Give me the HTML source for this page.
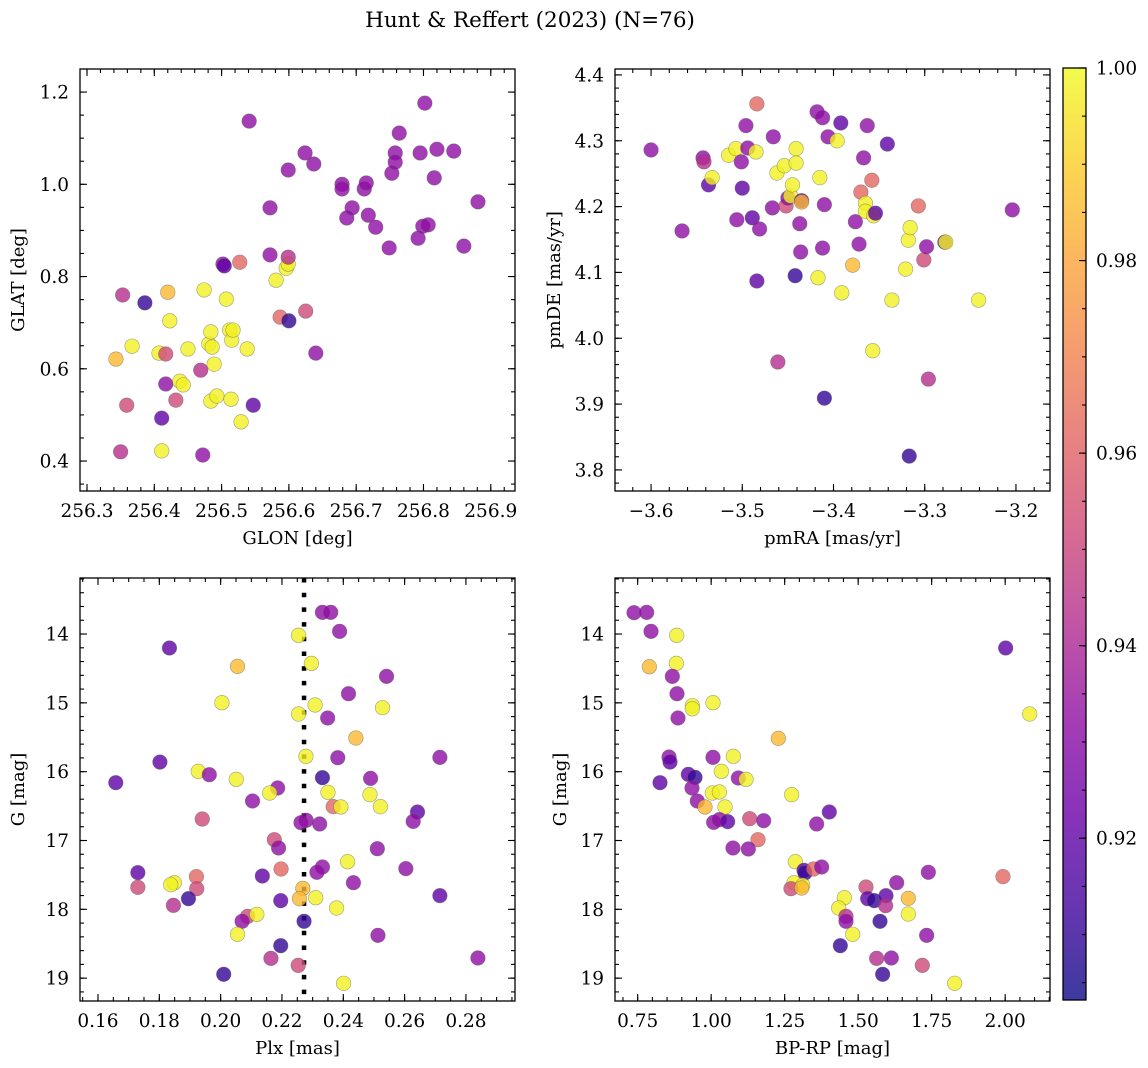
<!DOCTYPE html>
<html><head><meta charset="utf-8"><style>
html,body{margin:0;padding:0;background:#fff;}
svg{display:block;font-family:"DejaVu Serif","Liberation Serif",serif;}
</style></head><body>
<svg id="fig" width="1148" height="1068" viewBox="0 0 1148 1068" xmlns="http://www.w3.org/2000/svg">
<defs>
<linearGradient id="plasma" x1="0" y1="1" x2="0" y2="0">
<stop offset="0" stop-color="#0d0887"/><stop offset="0.1" stop-color="#41049d"/><stop offset="0.2" stop-color="#6a00a8"/><stop offset="0.3" stop-color="#8f0da4"/><stop offset="0.4" stop-color="#b12a90"/><stop offset="0.5" stop-color="#cc4778"/><stop offset="0.6" stop-color="#e16462"/><stop offset="0.7" stop-color="#f2844b"/><stop offset="0.8" stop-color="#fca636"/><stop offset="0.9" stop-color="#fcce25"/><stop offset="1" stop-color="#f0f921"/>
</linearGradient>
</defs>
<text x="530" y="27" text-anchor="middle" font-size="21.5">Hunt &amp; Reffert (2023) (N=76)</text>
</svg>
<script>
// ---- data ----
const codeProb = {Y:0.998,O:0.985,S:0.962,K:0.952,M:0.943,P:0.932,I:0.920,D:0.910};
// Panel 1: GLON / GLAT
const glon = [256.343,256.353,256.359,256.350,256.386,256.367,256.407,256.417,256.420,256.423,256.417,256.411,256.411,256.432,256.438,256.443,256.450,256.469,256.472,256.474,256.481,256.484,256.486,256.489,256.484,256.493,256.502,256.504,256.507,256.512,256.515,256.517,256.514,256.527,256.529,256.538,256.547,256.541,256.572,256.572,256.581,256.587,256.596,256.599,256.599,256.599,256.600,256.624,256.625,256.637,256.640,256.679,256.679,256.686,256.694,256.712,256.715,256.718,256.729,256.749,256.753,256.758,256.758,256.764,256.792,256.795,256.799,256.802,256.807,256.816,256.820,256.845,256.860,256.881];
const glat = [0.621,0.760,0.521,0.420,0.743,0.649,0.634,0.632,0.766,0.704,0.567,0.493,0.422,0.532,0.573,0.565,0.643,0.597,0.413,0.771,0.654,0.680,0.647,0.610,0.530,0.541,0.827,0.823,0.751,0.684,0.662,0.684,0.534,0.831,0.485,0.643,0.521,1.137,0.949,0.847,0.792,0.712,0.818,0.827,0.842,1.031,0.704,1.068,0.725,1.044,0.634,1.000,0.990,0.927,0.949,0.990,1.003,0.933,0.907,0.862,1.024,1.068,1.048,1.111,0.883,1.068,0.909,1.176,0.912,1.014,1.076,1.072,0.866,0.962];
const prob1 = "OMKMDYYKOYPIYKYYYMPYYYYYYYPIYYYYYSYYIPPPYSYYMPDPKPP" + "PPPPPPPPPPPPPPPPPPPPPPP";
// Panel 2: pmRA / pmDE
const pmra = [-3.600,-3.566,-3.543,-3.542,-3.537,-3.533,-3.515,-3.507,-3.501,-3.500,-3.496,-3.494,-3.506,-3.489,-3.485,-3.484,-3.484,-3.481,-3.466,-3.467,-3.462,-3.461,-3.454,-3.452,-3.450,-3.447,-3.445,-3.442,-3.441,-3.441,-3.437,-3.435,-3.435,-3.436,-3.418,-3.415,-3.417,-3.412,-3.410,-3.412,-3.410,-3.406,-3.396,-3.391,-3.392,-3.379,-3.376,-3.372,-3.370,-3.367,-3.365,-3.365,-3.363,-3.358,-3.357,-3.356,-3.354,-3.341,-3.336,-3.321,-3.318,-3.316,-3.317,-3.307,-3.301,-3.298,-3.296,-3.278,-3.277,-3.241,-3.204];
const pmde = [4.286,4.163,4.274,4.268,4.233,4.244,4.278,4.288,4.268,4.228,4.323,4.289,4.180,4.183,4.283,4.356,4.087,4.166,4.306,4.198,4.251,3.964,4.262,4.201,4.213,4.216,4.233,4.095,4.288,4.266,4.174,4.209,4.207,4.131,4.344,4.244,4.092,4.335,4.203,4.137,3.909,4.306,4.300,4.069,4.327,4.111,4.177,4.143,4.222,4.274,4.205,4.193,4.323,4.240,3.981,4.186,4.190,4.295,4.058,4.105,4.149,4.168,3.821,4.201,4.119,4.139,3.938,4.146,4.146,4.058,4.195];
const prob2 = "PPPMIYYYPIPPPIYSIPPPYMYKPYYDYYPIOPPYYPPPDPYYIOPPSPYYPSYYIIYYYYDSKPMIYYP";
// Panel 3: Plx / G
const plx = [0.2332,0.2359,0.2388,0.2254,0.1833,0.2055,0.2296,0.2541,0.2417,0.2004,0.2308,0.2528,0.2254,0.2349,0.2441,0.2278,0.2382,0.2715,0.1802,0.1927,0.1963,0.2051,0.1658,0.2332,0.2489,0.2186,0.2160,0.2350,0.2487,0.2104,0.2367,0.2392,0.2521,0.2642,0.1940,0.2279,0.2262,0.2323,0.2628,0.2175,0.2189,0.2511,0.1730,0.2414,0.1921,0.2197,0.2332,0.2314,0.2136,0.2604,0.1730,0.1849,0.1837,0.1922,0.2433,0.2268,0.1895,0.2196,0.2257,0.2310,0.2715,0.1846,0.2378,0.2088,0.2118,0.2070,0.2272,0.2055,0.2513,0.2196,0.2164,0.2839,0.2253,0.2010,0.2401];
const gmag3 = [13.685,13.685,13.961,14.019,14.203,14.470,14.426,14.615,14.867,14.998,15.031,15.070,15.162,15.220,15.511,15.777,15.797,15.792,15.860,15.995,16.044,16.111,16.160,16.087,16.097,16.237,16.310,16.300,16.334,16.426,16.508,16.513,16.508,16.586,16.688,16.707,16.741,16.760,16.722,16.988,17.109,17.119,17.467,17.308,17.525,17.414,17.385,17.462,17.516,17.409,17.680,17.613,17.642,17.700,17.613,17.695,17.845,17.874,17.845,17.831,17.801,17.942,17.981,18.102,18.073,18.174,18.174,18.363,18.378,18.528,18.712,18.707,18.814,18.944,19.075];
const prob3 = "PPPYIOYPPYYYYPOYPPIYPYIDPPYYYPSYYIKPPPPKPPIYSSPPIPKYYKPODIOYIMYKYPDYPDMPKDY";
const plxRef = [0.2272];
// Panel 4: BP-RP / G
const bprp = [0.7375,0.7806,0.7954,0.8827,2.0017,0.7897,0.8815,0.8679,0.8838,0.9359,0.9359,1.0062,0.8872,2.0833,1.2285,0.8566,0.8600,1.0062,1.0754,0.8260,0.9223,0.9450,1.0346,1.0924,1.1185,0.9348,1.0040,1.0278,1.2738,0.9529,0.9790,1.0471,1.4019,1.0085,1.0278,1.0561,1.1310,1.1786,1.3588,1.1593,1.0743,1.1264,1.2863,1.3158,1.3192,1.3487,1.3759,1.7387,1.9926,1.2817,1.3112,1.2715,1.3078,1.5266,1.6310,1.5323,1.5550,1.5947,1.5935,1.6706,1.4530,1.4337,1.6706,1.4586,1.4586,1.5743,1.4813,1.7330,1.4393,1.5629,1.6128,1.7182,1.5833,1.8282];
const gmag4 = [13.690,13.685,13.961,14.019,14.203,14.475,14.426,14.615,14.867,15.041,15.085,14.998,15.220,15.162,15.516,15.787,15.860,15.792,15.777,16.160,16.039,16.082,15.995,16.092,16.111,16.237,16.310,16.295,16.334,16.426,16.513,16.513,16.586,16.736,16.697,16.726,16.683,16.712,16.760,16.988,17.109,17.123,17.308,17.433,17.472,17.414,17.385,17.462,17.525,17.613,17.651,17.700,17.690,17.676,17.613,17.845,17.874,17.801,17.947,17.840,17.831,17.981,18.068,18.102,18.174,18.174,18.363,18.378,18.528,18.712,18.707,18.814,18.944,19.075];
const prob4 = "PPPYIOYPPYYYPYOPIPYIIDYPYPYYYPOYIPPIKPPSPPYIDSPPSYYKOKPIDIMOYYYMPDYPDMPKDY";
const cbarTicks = [0.92,0.94,0.96,0.98,1.00];

// ---- rendering ----
const NS = "http://www.w3.org/2000/svg";
const svg = document.getElementById('fig');
const PL = [[13,8,135],[65,4,157],[106,0,168],[143,13,164],[177,42,144],[204,71,120],[225,100,98],[242,132,75],[252,166,54],[252,206,37],[240,249,33]];
const VMIN = 0.9032, VMAX = 1.0;
const TF = 18.5, LF = 18;
function plasma(v){
  let t = Math.max(0, Math.min(1, (v - VMIN) / (VMAX - VMIN))) * 10;
  const i = Math.min(9, Math.floor(t)), f = t - i;
  const c = PL[i].map((a, k) => Math.round(a + (PL[i+1][k] - a) * f));
  return 'rgb(' + c.join(',') + ')';
}
function mk(tag, attrs, parent){
  const e = document.createElementNS(NS, tag);
  for (const k in attrs) e.setAttribute(k, attrs[k]);
  (parent || svg).appendChild(e);
  return e;
}
function fmt(v, d){ const s = v.toFixed(d); return s.replace('-', '\u2212'); }

function panel(o){
  const g = mk('g', {});
  
  
  const sx = v => o.x0 + (v - o.xd[0]) / (o.xd[1] - o.xd[0]) * (o.x1 - o.x0);
  const sy = o.inv ? (v => o.y0 + (v - o.yd[0]) / (o.yd[1] - o.yd[0]) * (o.y1 - o.y0))
                   : (v => o.y1 - (v - o.yd[0]) / (o.yd[1] - o.yd[0]) * (o.y1 - o.y0));
  if (o.vline !== undefined){
    const l = mk('line', {x1: sx(o.vline), x2: sx(o.vline), y1: o.y0, y2: o.y1, stroke: '#000', 'stroke-width': 4.5, 'stroke-dasharray': '4.5 10.2'}, g);
    
    
  }
  const pg = mk('g', {}, g);
  
  
  for (let i = 0; i < o.xs.length; i++){
    const p = codeProb[o.pr[i]] || 0.93;
    const c = mk('circle', {cx: sx(o.xs[i]), cy: sy(o.ys[i]), r: 7.3, fill: plasma(p), 'fill-opacity': 0.8, stroke: 'rgba(90,90,90,0.55)', 'stroke-width': 0.6}, pg);
    
    
  }
  const fr = mk('rect', {x: o.x0, y: o.y0, width: o.x1 - o.x0, height: o.y1 - o.y0, fill: 'none', stroke: '#000', 'stroke-width': 1.3}, g);
  
  
  const tg = mk('g', {stroke: '#000', 'stroke-width': 1.1}, g);
  for (let v = Math.ceil(o.xd[0] / o.xmin) * o.xmin; v <= o.xd[1]; v += o.xmin){
    const X = sx(v);
    mk('line', {x1: X, x2: X, y1: o.y1, y2: o.y1 - 4}, tg);
    mk('line', {x1: X, x2: X, y1: o.y0, y2: o.y0 + 4}, tg);
  }
  for (let v = Math.ceil(o.yd[0] / o.ymin) * o.ymin; v <= o.yd[1]; v += o.ymin){
    const Y = sy(v);
    mk('line', {x1: o.x0, x2: o.x0 + 4, y1: Y, y2: Y}, tg);
    mk('line', {x1: o.x1, x2: o.x1 - 4, y1: Y, y2: Y}, tg);
  }
  const xa = mk('g', {}, g);
  
  
  o.xt.forEach(v => {
    const X = sx(v);
    mk('line', {x1: X, x2: X, y1: o.y1, y2: o.y1 - 7}, tg);
    mk('line', {x1: X, x2: X, y1: o.y0, y2: o.y0 + 7}, tg);
    const t = mk('text', {x: X, y: o.y1 + 26, 'text-anchor': 'middle', 'font-size': TF}, xa);
    t.textContent = fmt(v, o.xdec);
    
    
  });
  const ya = mk('g', {}, g);
  
  
  o.yt.forEach(v => {
    const Y = sy(v);
    mk('line', {x1: o.x0, x2: o.x0 + 7, y1: Y, y2: Y}, tg);
    mk('line', {x1: o.x1, x2: o.x1 - 7, y1: Y, y2: Y}, tg);
    const t = mk('text', {x: o.x0 - 11, y: Y + 6.5, 'text-anchor': 'end', 'font-size': TF}, ya);
    t.textContent = fmt(v, o.ydec);
    
    
  });
  const xl = mk('text', {x: (o.x0 + o.x1) / 2, y: o.y1 + 53, 'text-anchor': 'middle', 'font-size': LF}, g);
  xl.textContent = o.xlabel;
  
  
  const yx = o.ylx, yy = (o.y0 + o.y1) / 2;
  const yl = mk('text', {x: yx, y: yy, 'text-anchor': 'middle', 'font-size': LF, transform: 'rotate(-90 ' + yx + ' ' + yy + ')'}, g);
  yl.textContent = o.ylabel;
  
  
}

panel({name:'glon-glat-panel', x0:80, x1:515, y0:69, y1:491, xd:[256.2896,256.936], yd:[0.335,1.25],
  xs:glon, ys:glat, pr:prob1, xt:[256.3,256.4,256.5,256.6,256.7,256.8,256.9], yt:[0.4,0.6,0.8,1.0,1.2],
  xmin:0.02, ymin:0.05, xdec:1, ydec:1, xlabel:'GLON [deg]', ylabel:'GLAT [deg]', ylx:24});
panel({name:'proper-motion-panel', x0:615, x1:1050, y0:69, y1:491, xd:[-3.6395,-3.1627], yd:[3.768,4.409],
  xs:pmra, ys:pmde, pr:prob2, xt:[-3.6,-3.5,-3.4,-3.3,-3.2], yt:[3.8,3.9,4.0,4.1,4.2,4.3,4.4],
  xmin:0.02, ymin:0.02, xdec:1, ydec:1, xlabel:'pmRA [mas/yr]', ylabel:'pmDE [mas/yr]', ylx:560});
panel({name:'parallax-magnitude-panel', x0:80, x1:515, y0:578, y1:1001, xd:[0.15413,0.2960], yd:[13.186,19.332], inv:true,
  xs:plx, ys:gmag3, pr:prob3, xt:[0.16,0.18,0.20,0.22,0.24,0.26,0.28], yt:[14,15,16,17,18,19],
  xmin:0.005, ymin:0.2, xdec:2, ydec:0, xlabel:'Plx [mas]', ylabel:'G [mag]', ylx:24, vline:plxRef[0]});
panel({name:'color-magnitude-panel', x0:615, x1:1050, y0:578, y1:1001, xd:[0.6729,2.1525], yd:[13.186,19.332], inv:true,
  xs:bprp, ys:gmag4, pr:prob4, xt:[0.75,1.00,1.25,1.50,1.75,2.00], yt:[14,15,16,17,18,19],
  xmin:0.05, ymin:0.2, xdec:2, ydec:0, xlabel:'BP-RP [mag]', ylabel:'G [mag]', ylx:566});

// colorbar
const cb = mk('g', {});


const CX0 = 1063, CX1 = 1086, CY0 = 68, CY1 = 1000;
mk('rect', {x: CX0, y: CY0, width: CX1 - CX0, height: CY1 - CY0, fill: 'url(#plasma)', 'fill-opacity': 0.8}, cb);
mk('rect', {x: CX0, y: CY0, width: CX1 - CX0, height: CY1 - CY0, fill: 'none', stroke: '#000', 'stroke-width': 1.3}, cb);
const cy = v => CY1 - (v - VMIN) / (VMAX - VMIN) * (CY1 - CY0);
for (let v = 0.905; v <= 1.0001; v += 0.005){
  mk('line', {x1: CX1, x2: CX1 - 4, y1: cy(v), y2: cy(v), stroke: '#000', 'stroke-width': 1.1}, cb);
}
cbarTicks.forEach(v => {
  mk('line', {x1: CX1, x2: CX1 - 7, y1: cy(v), y2: cy(v), stroke: '#000', 'stroke-width': 1.1}, cb);
  const t = mk('text', {x: 1096, y: cy(v) + 6.5, 'font-size': TF}, cb);
  t.textContent = v.toFixed(2);
  
  
});
</script>
</body></html>
